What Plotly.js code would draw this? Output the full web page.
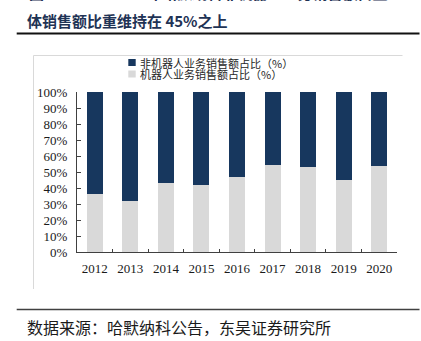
<!DOCTYPE html>
<html>
<head>
<meta charset="utf-8">
<script src="https://cdn.plot.ly/plotly-3.0.1.min.js"></script>
<style>
html,body{margin:0;padding:0;background:#fff;}
#chart{width:421px;height:341px;}
</style>
</head>
<body>
<div id="chart"></div>
<script>
var years = ['2012','2013','2014','2015','2016','2017','2018','2019','2020'];
var robotShare = [36, 32, 43, 42, 47, 54.5, 53, 45, 53.5];
var nonRobotShare = [64, 68, 57, 58, 53, 45.5, 47, 55, 46.5];
var seriesNames = ['机器人业务销售额占比（%）', '非机器人业务销售额占比（%）'];
var titleTop = '图3：2012-2020 年哈默纳科非机器人业务销售额占整';
var titleBottom = '体销售额比重维持在 45%之上';
var sourceText = '数据来源：哈默纳科公告，东吴证券研究所';

var navy = '#17375E';
var grey = '#D9D9D9';
var tickFont = {family: 'Liberation Serif, Times New Roman, serif', size: 13, color: '#1a1a1a'};
var cjk = 'Noto Sans CJK SC, sans-serif';

var traces = [
  {type: 'bar', x: years, y: robotShare, name: seriesNames[0], marker: {color: grey}, hoverinfo: 'none'},
  {type: 'bar', x: years, y: nonRobotShare, name: seriesNames[1], marker: {color: navy}, hoverinfo: 'none'}
];

// pixel -> paper helpers (plot area: x 77..397, y 92..252)
var L = 77, R = 24, T = 92, B = 89, W = 421 - L - R, H = 341 - T - B;
function px(x){ return (x - L) / W; }
function py(y){ return (341 - B - y) / H; }

var layout = {
  width: 421, height: 341,
  margin: {l: L, r: R, t: T, b: B, pad: 0},
  paper_bgcolor: '#fff', plot_bgcolor: '#fff',
  barmode: 'stack', bargap: 0.55,
  showlegend: false,
  xaxis: {
    type: 'category', tickson: 'boundaries', ticks: 'inside', ticklen: 3, tickcolor: '#404040',
    showline: true, linecolor: '#404040', linewidth: 1, showgrid: false, zeroline: false,
    tickfont: tickFont, ticklabelstandoff: 4, fixedrange: true
  },
  yaxis: {
    range: [0, 100], dtick: 10, ticksuffix: '%', ticks: 'inside', ticklen: 4, tickcolor: '#404040',
    showline: true, linecolor: '#404040', linewidth: 1, showgrid: false, zeroline: false,
    tickfont: tickFont, ticklabelstandoff: 6, fixedrange: true
  },
  shapes: [
    {type: 'line', xref: 'paper', yref: 'paper', x0: px(16.7), x1: px(419.5), y0: py(33.5), y1: py(33.5), line: {color: '#111', width: 2}},
    {type: 'line', xref: 'paper', yref: 'paper', x0: px(16.7), x1: px(419.5), y0: py(309.5), y1: py(309.5), line: {color: '#404040', width: 1.5}},
    {type: 'line', xref: 'paper', yref: 'paper', x0: px(33.5), x1: px(402.5), y0: py(55.5), y1: py(55.5), line: {color: '#D9D9D9', width: 1}},
    {type: 'line', xref: 'paper', yref: 'paper', x0: px(33.5), x1: px(33.5), y0: py(55.5), y1: py(289), line: {color: '#D9D9D9', width: 1}},
    {type: 'rect', xref: 'paper', yref: 'paper', x0: px(128.3), x1: px(135.7), y0: py(59), y1: py(66), fillcolor: navy, line: {width: 0}},
    {type: 'rect', xref: 'paper', yref: 'paper', x0: px(128.3), x1: px(135.7), y0: py(70.5), y1: py(77.5), fillcolor: grey, line: {width: 0}}
  ],
  annotations: [
    {xref: 'paper', yref: 'paper', x: px(27), y: py(-7.5), xanchor: 'left', yanchor: 'middle', showarrow: false,
     text: '<b>' + titleTop + '</b>', font: {family: cjk, size: 15, color: '#1f3355'}},
    {xref: 'paper', yref: 'paper', x: px(25), y: py(21), xanchor: 'left', yanchor: 'middle', showarrow: false,
     text: '<b>' + titleBottom + '</b>', font: {family: cjk, size: 15, color: '#1f3355'}},
    {xref: 'paper', yref: 'paper', x: px(137.5), y: py(62.5), xanchor: 'left', yanchor: 'middle', showarrow: false,
     text: seriesNames[1], font: {family: cjk, size: 11, color: '#262626'}},
    {xref: 'paper', yref: 'paper', x: px(137.5), y: py(74), xanchor: 'left', yanchor: 'middle', showarrow: false,
     text: seriesNames[0], font: {family: cjk, size: 11, color: '#262626'}},
    {xref: 'paper', yref: 'paper', x: px(25), y: py(327), xanchor: 'left', yanchor: 'middle', showarrow: false,
     text: sourceText, font: {family: cjk, size: 16, color: '#1a1a1a'}}
  ]
};

Plotly.newPlot('chart', traces, layout, {displayModeBar: false, staticPlot: true});
</script>
</body>
</html>
